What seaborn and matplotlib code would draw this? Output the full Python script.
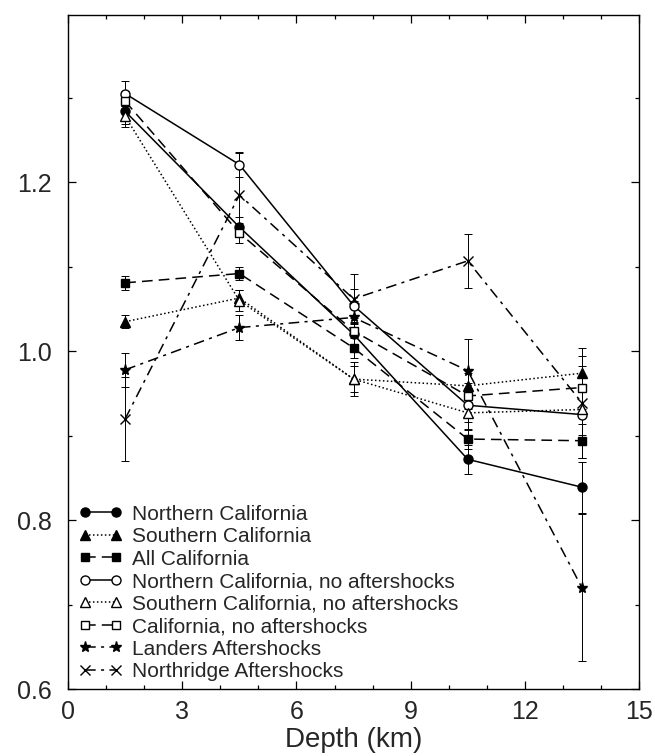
import matplotlib
matplotlib.use("Agg")
import matplotlib.pyplot as plt
from matplotlib.ticker import MultipleLocator, FormatStrFormatter
import seaborn as sns

# --- Datos ---
depth = [1.5, 4.5, 7.5, 10.5, 13.5]

north_cal = [1.284, 1.147, 1.020, 0.872, 0.839]
north_cal_err = [0.015, 0.012, 0.015, 0.017, 0.030]
south_cal = [1.035, 1.063, 0.967, 0.959, 0.974]
south_cal_err = [0.008, 0.010, 0.015, 0.015, 0.020]
all_cal = [1.081, 1.092, 1.004, 0.896, 0.894]
all_cal_err = [0.008, 0.008, 0.012, 0.012, 0.020]
north_noaft = [1.305, 1.221, 1.054, 0.936, 0.925]
north_noaft_err = [0.015, 0.015, 0.020, 0.020, 0.030]
south_noaft = [1.278, 1.060, 0.967, 0.927, 0.931]
south_noaft_err = [0.012, 0.012, 0.020, 0.020, 0.030]
cal_noaft = [1.296, 1.140, 1.024, 0.947, 0.957]
cal_noaft_err = [0.012, 0.012, 0.015, 0.015, 0.025]
landers = [0.978, 1.028, 1.040, 0.977, 0.720]
landers_err = [0.020, 0.015, 0.020, 0.037, 0.087]
northridge = [0.920, 1.185, 1.062, 1.107, 0.939]
northridge_err = [0.050, 0.050, 0.030, 0.032, 0.065]

labels = ["Northern California", "Southern California", "All California",
          "Northern California, no aftershocks", "Southern California, no aftershocks",
          "California, no aftershocks", "Landers Aftershocks", "Northridge Aftershocks"]

# estilo de cada serie: (valores, errores, marcador, relleno, linea)
DOTTED = (0, (1, 1.6))
DASHED = (0, (7, 4))
DASHDOT = (0, (7, 3.5, 2, 3.5))
series = [
    (north_cal, north_cal_err, "o", "black", "-"),
    (south_cal, south_cal_err, "^", "black", DOTTED),
    (all_cal, all_cal_err, "s", "black", DASHED),
    (north_noaft, north_noaft_err, "o", "white", "-"),
    (south_noaft, south_noaft_err, "^", "white", DOTTED),
    (cal_noaft, cal_noaft_err, "s", "white", DASHED),
    (landers, landers_err, "*", "black", DASHDOT),
    (northridge, northridge_err, "x", "black", DASHDOT),
]

sns.set_style("ticks")
plt.rcParams["font.family"] = ["Liberation Sans", "DejaVu Sans"]

fig = plt.figure(figsize=(6.55, 7.56), dpi=100)
ax = fig.add_axes([0.104, 0.0886, 0.8716, 0.8914])

for (vals, errs, mk, face, ls), lab in zip(series, labels):
    ax.errorbar(depth, vals, yerr=errs, fmt="none", ecolor="black",
                elinewidth=0.7, capsize=3, capthick=0.7, zorder=2)
    size = 8 if mk == "*" else (6 if mk == "s" else 6.5)
    sns.lineplot(x=depth, y=vals, ax=ax, color="black", marker=mk,
                 markersize=size, markerfacecolor=face, markeredgecolor="black",
                 markeredgewidth=1.0, linestyle=ls, linewidth=1.1, label=lab,
                 zorder=3)

ax.set_xlim(0, 15)
ax.set_ylim(0.6, 1.398)
ax.xaxis.set_major_locator(MultipleLocator(3))
ax.xaxis.set_minor_locator(MultipleLocator(1))
ax.yaxis.set_major_locator(MultipleLocator(0.2))
ax.yaxis.set_minor_locator(MultipleLocator(0.1))
ax.yaxis.set_major_formatter(FormatStrFormatter("%.1f"))
ax.tick_params(which="both", direction="in", top=True, right=True,
               color="black", width=0.9, labelsize=18)
ax.tick_params(which="major", length=6)
ax.tick_params(which="minor", length=3)
ax.tick_params(axis="y", pad=12)
ax.tick_params(axis="x", pad=8)
for sp in ax.spines.values():
    sp.set_linewidth(1.0)
    sp.set_color("black")

ax.set_xlabel("Depth (km)", fontsize=20, labelpad=2)
ax.set_ylabel("")

ax.legend(loc="lower left", numpoints=2, frameon=False, fontsize=15,
          handlelength=2.1, handletextpad=0.45, labelspacing=0.17,
          borderaxespad=0.1, bbox_to_anchor=(0.0, -0.004))

fig.savefig("out.png", dpi=100)
plt.close(fig)
